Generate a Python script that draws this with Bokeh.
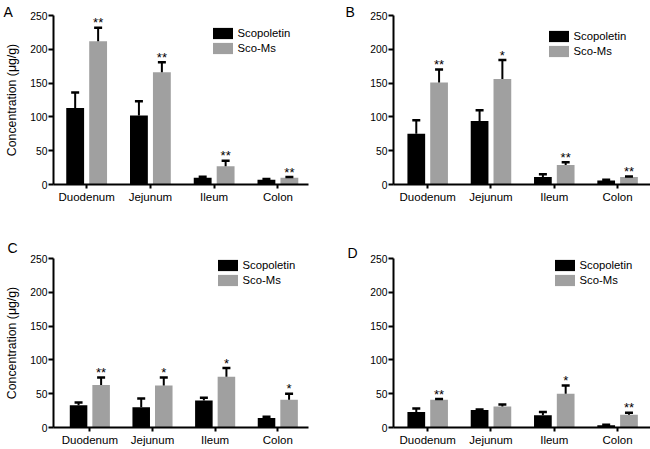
from bokeh.plotting import figure
from bokeh.models import (ColumnDataSource, Whisker, TeeHead, Legend, LegendItem,
                          Title, FixedTicker, Range1d)
from bokeh.layouts import gridplot
from bokeh.core.properties import value
from bokeh.embed import file_html
from bokeh.resources import INLINE

# ---------------- data ----------------
categories = ["Duodenum", "Jejunum", "Ileum", "Colon"]
series_names = ["Scopoletin", "Sco-Ms"]

# Panel A
A_sco = [113, 102, 10, 7]
A_sco_sd = [23, 21, 1.5, 1]
A_ms = [212, 166, 27, 10]
A_ms_sd = [20, 15, 8, 1]
A_stars = ["**", "**", "**", "**"]

# Panel B
B_sco = [75, 94, 11, 6]
B_sco_sd = [20, 16, 4, 1]
B_ms = [151, 156, 29, 11]
B_ms_sd = [19, 28, 4, 1]
B_stars = ["**", "*", "**", "**"]

# Panel C
C_sco = [33, 30, 40, 14]
C_sco_sd = [4, 13, 4, 2]
C_ms = [63, 62, 75, 41]
C_ms_sd = [11, 12, 13, 9]
C_stars = ["**", "*", "*", "*"]

# Panel D
D_sco = [23, 26, 18, 3.5]
D_sco_sd = [5, 0.5, 5, 0.5]
D_ms = [41, 31, 50, 19]
D_ms_sd = [1, 3, 12, 3]
D_stars = ["**", "", "*", "**"]

y_ticks = [0, 50, 100, 150, 200, 250]
y_label = "Concentration (\u03bcg/g)"

FONT = "Liberation Sans"
BLACK = "#000000"
GRAY = "#a0a0a0"
OFF = 0.18
BAR_W = 0.28


def make_panel(letter, sco, sco_sd, ms, ms_sd, stars, width, height,
               bl, br, bt, bb, xr, show_ylabel, leg_xy, letter_off, letter_so):
    pos = [i + 1 for i in range(len(categories))]
    src_s = ColumnDataSource(dict(
        x=[p - OFF for p in pos], mean=sco,
        upper=[m + s for m, s in zip(sco, sco_sd)]))
    src_m = ColumnDataSource(dict(
        x=[p + OFF for p in pos], mean=ms,
        upper=[m + s for m, s in zip(ms, ms_sd)], star=stars))

    p = figure(width=width, height=height, output_backend="svg",
               toolbar_location=None, x_range=Range1d(*xr),
               y_range=Range1d(0, 250), min_border_left=bl,
               min_border_right=br, min_border_top=bt, min_border_bottom=bb)
    p.outline_line_color = None
    p.xgrid.visible = False
    p.ygrid.visible = False
    p.background_fill_color = "white"

    r1 = p.vbar(x="x", top="mean", width=BAR_W, source=src_s,
                fill_color=BLACK, line_color=None)
    r2 = p.vbar(x="x", top="mean", width=BAR_W, source=src_m,
                fill_color=GRAY, line_color=None)

    for src in (src_s, src_m):
        w = Whisker(source=src, base="x", upper="upper", lower="mean",
                    dimension="height", lower_head=None,
                    upper_head=TeeHead(size=8, line_width=2.5, line_color=BLACK),
                    line_width=2, line_color=BLACK, level="annotation")
        p.add_layout(w)

    p.text(x="x", y="upper", text="star", source=src_m, text_align="center",
           text_baseline="alphabetic", y_offset=-5,
           text_font=value(FONT), text_font_size="13px", text_color=BLACK)

    # axes
    for ax in (p.xaxis[0], p.yaxis[0]):
        ax.axis_line_width = 2
        ax.axis_line_color = BLACK
        ax.major_tick_line_width = 2
        ax.major_tick_line_color = BLACK
        ax.major_tick_in = 0
        ax.minor_tick_line_color = None
        ax.major_label_text_font = FONT
        ax.major_label_text_color = BLACK
    p.yaxis.ticker = FixedTicker(ticks=y_ticks)
    p.yaxis.major_tick_out = 5
    p.yaxis.major_label_standoff = 1
    p.yaxis.major_label_text_font_size = "10.3px"
    p.xaxis.ticker = FixedTicker(ticks=pos)
    p.xaxis.major_tick_out = 4
    p.xaxis.major_label_overrides = {pp: c for pp, c in zip(pos, categories)}
    p.xaxis.major_label_standoff = 2
    p.xaxis.major_label_text_font_size = "11.5px"
    if show_ylabel:
        p.yaxis.axis_label = y_label
        p.yaxis.axis_label_text_font = FONT
        p.yaxis.axis_label_text_font_style = "normal"
        p.yaxis.axis_label_text_font_size = "12.3px"
        p.yaxis.axis_label_text_color = BLACK
        p.yaxis.axis_label_standoff = 8

    legend = Legend(items=[LegendItem(label=series_names[0], renderers=[r1]),
                           LegendItem(label=series_names[1], renderers=[r2])],
                    location=leg_xy, orientation="vertical",
                    glyph_width=25, glyph_height=14, label_height=14,
                    label_width=20, spacing=1, padding=0, margin=0,
                    label_standoff=3, border_line_alpha=0,
                    background_fill_alpha=0, label_text_font=FONT,
                    label_text_font_size="11.3px", label_text_color=BLACK)
    p.add_layout(legend)

    t = Title(text=letter, align="left", offset=letter_off, standoff=letter_so,
              vertical_align="middle", text_font=FONT, text_font_size="14px",
              text_font_style="normal", text_color=BLACK)
    p.add_layout(t, "above")
    return p


pA = make_panel("A", A_sco, A_sco_sd, A_ms, A_ms_sd, A_stars,
                325, 225, 53, 16, 15, 40, (0.48, 4.48), True,
                (156.5, 129.5), -50, -10.5)
pB = make_panel("B", B_sco, B_sco_sd, B_ms, B_ms_sd, B_stars,
                325, 225, 68, 0, 15, 41, (0.46, 4.52), False,
                (152.5, 126.5), -48, -10.5)
pC = make_panel("C", C_sco, C_sco_sd, C_ms, C_ms_sd, C_stars,
                325, 224, 49, 17, 33, 22, (0.42, 4.49), True,
                (161.5, 140.5), -46, 3.5)
pD = make_panel("D", D_sco, D_sco_sd, D_ms, D_ms_sd, D_stars,
                325, 224, 68, 0, 33, 22, (0.46, 4.52), False,
                (158.5, 140.5), -46, -6.5)

grid = gridplot([[pA, pB], [pC, pD]], toolbar_location=None)

open("out.html", "w").write(file_html(grid, INLINE))
